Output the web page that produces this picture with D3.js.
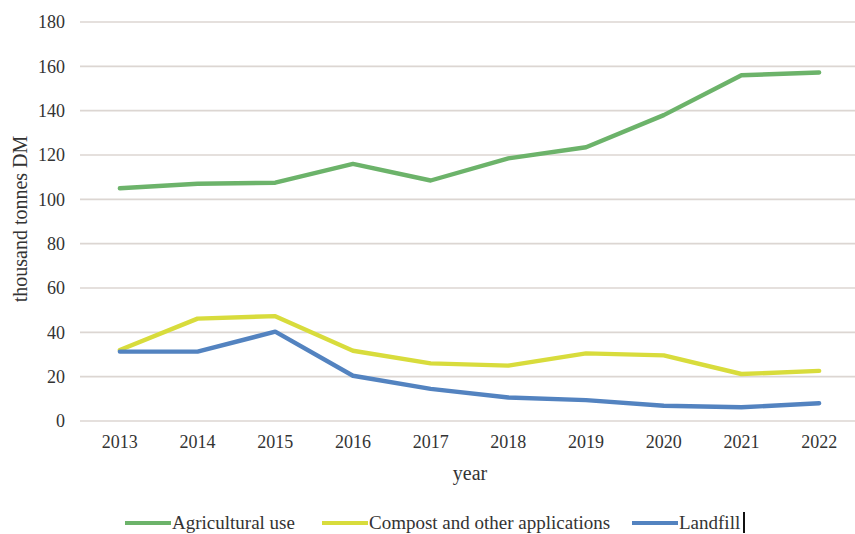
<!DOCTYPE html>
<html>
<head>
<meta charset="utf-8">
<script src="https://cdn.jsdelivr.net/npm/d3@7"></script>
<style>
  html, body { margin: 0; padding: 0; background: #ffffff; }
  svg { display: block; }
  text { font-family: "Liberation Serif", "DejaVu Serif", serif; fill: #333333; }
</style>
</head>
<body>
<svg id="chart" width="855" height="534"></svg>
<script>
// Sewage sludge disposal routes, thousand tonnes of dry matter
const years = ["2013", "2014", "2015", "2016", "2017", "2018", "2019", "2020", "2021", "2022"];
const agricultural = [105, 107, 107.5, 116, 108.5, 118.5, 123.5, 138, 156, 157.2];
const compost = [32, 46.2, 47.3, 31.7, 26, 25, 30.5, 29.6, 21.2, 22.6];
const landfill = [31.3, 31.3, 40.3, 20.4, 14.5, 10.6, 9.4, 6.9, 6.2, 8];
const yTicks = [0, 20, 40, 60, 80, 100, 120, 140, 160, 180];

const seriesNames = ["Agricultural use", "Compost and other applications", "Landfill"];
const seriesValues = [agricultural, compost, landfill];
const seriesColors = ["#6cb36a", "#d8dc3c", "#5383c0"];

const svg = d3.select("#chart");

const x = d3.scaleBand().domain(years).range([81, 858]);
const y = d3.scaleLinear().domain([0, 180]).range([421, 22]);

// horizontal gridlines
svg.append("g")
  .selectAll("line")
  .data(yTicks)
  .join("line")
  .attr("x1", 80).attr("x2", 855)
  .attr("y1", d => y(d)).attr("y2", d => y(d))
  .attr("stroke", "#dcd6d2")
  .attr("stroke-width", 1.6);

const styleTicks = g => g.selectAll("text")
  .style("font-family", '"Liberation Serif", serif')
  .style("font-size", "18px")
  .attr("fill", "#333333");

// y axis labels
const yAxis = d3.axisLeft(y).tickValues(yTicks).tickSize(0).tickPadding(0);
svg.append("g")
  .attr("transform", "translate(65,0)")
  .call(yAxis)
  .call(g => g.select(".domain").remove())
  .call(styleTicks);

// x axis labels
const xAxis = d3.axisBottom(x).tickSize(0).tickPadding(0);
svg.append("g")
  .attr("transform", "translate(0,435)")
  .call(xAxis)
  .call(g => g.select(".domain").remove())
  .call(styleTicks);

// axis titles
svg.append("text")
  .attr("x", 470).attr("y", 480)
  .attr("text-anchor", "middle")
  .style("font-size", "20px")
  .text("year");

svg.append("text")
  .attr("transform", "translate(27,219) rotate(-90)")
  .attr("text-anchor", "middle")
  .style("font-size", "20px")
  .text("thousand tonnes DM");

// series lines
const line = d3.line()
  .x((d, i) => x(years[i]) + x.bandwidth() / 2)
  .y(d => y(d));

svg.append("g")
  .selectAll("path")
  .data(seriesValues)
  .join("path")
  .attr("d", d => line(d))
  .attr("fill", "none")
  .attr("stroke", (d, i) => seriesColors[i])
  .attr("stroke-width", 4.4)
  .attr("stroke-linejoin", "round")
  .attr("stroke-linecap", "round");

// legend
const legendX = [125, 322, 632];
const legend = svg.append("g")
  .selectAll("g")
  .data(seriesNames)
  .join("g")
  .attr("transform", (d, i) => `translate(${legendX[i]},523)`);

legend.append("line")
  .attr("x1", 0).attr("x2", 46)
  .attr("y1", 0).attr("y2", 0)
  .attr("stroke", (d, i) => seriesColors[i])
  .attr("stroke-width", 4);

legend.append("text")
  .attr("x", 47).attr("y", 6)
  .style("font-size", "19px")
  .text(d => d);

// text cursor after the last legend entry
svg.append("rect")
  .attr("x", 743).attr("y", 512).attr("width", 2).attr("height", 21)
  .attr("fill", "#111");
</script>
</body>
</html>
